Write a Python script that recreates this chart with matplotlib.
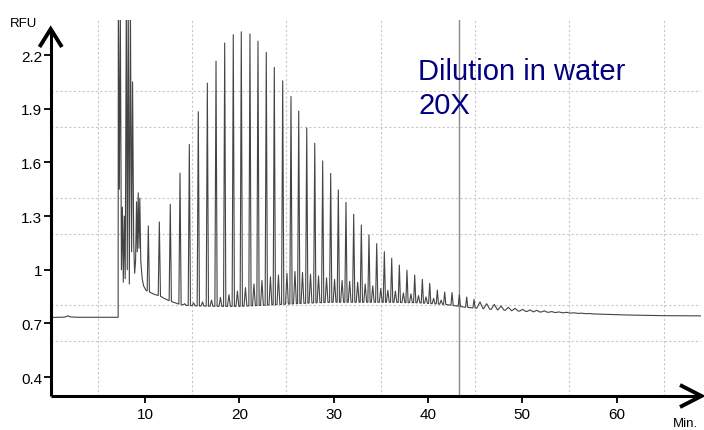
import numpy as np
import matplotlib.pyplot as plt
from matplotlib.lines import Line2D

plt.rcParams['font.family'] = ['Liberation Sans', 'DejaVu Sans']

# baseline and the crowded start of the run (minutes, RFU)
base_t = [0.0, 1.5, 1.8, 2.1, 3.0, 7.15,
          7.17, 7.28, 7.38, 7.5, 7.6, 7.7, 7.8, 7.9, 8.02, 8.12, 8.22, 8.34,
          8.45, 8.58, 8.68, 8.8, 8.9, 9.0, 9.1, 9.18, 9.28, 9.36, 9.45, 9.55,
          9.7, 9.85, 10.1, 10.6, 11.0, 11.6, 12.1, 12.65, 13.2, 13.7, 14.5,
          16.0, 18.0, 20.0, 22.0, 24.0, 26.0, 28.0, 30.0, 33.0, 36.0, 39.0,
          42.0, 44.0, 47.5, 51.0, 54.0, 58.0, 61.0, 65.0, 69.0]
base_v = [0.733, 0.735, 0.742, 0.736, 0.734, 0.734,
          2.5, 1.45, 2.5, 1.0, 1.35, 0.93, 1.3, 0.95, 2.5, 1.0, 2.5, 0.92,
          2.5, 1.1, 2.05, 1.15, 0.98, 1.05, 1.38, 1.1, 1.43, 1.12, 1.40, 1.05,
          0.95, 0.91, 0.885, 0.872, 0.862, 0.853, 0.838, 0.825, 0.815, 0.806, 0.80,
          0.797, 0.795, 0.795, 0.80, 0.805, 0.81, 0.815, 0.818, 0.818, 0.818, 0.815,
          0.805, 0.79, 0.775, 0.765, 0.76, 0.752, 0.747, 0.743, 0.742]

# main ladder of peaks
peak_t = [10.35, 11.52, 12.68, 13.71, 14.70, 15.65, 16.61, 17.53, 18.45, 19.36,
          20.21, 21.13, 21.98, 22.86, 23.71, 24.60, 25.48, 26.30, 27.15, 28.00,
          28.84, 29.69, 30.50, 31.31, 32.13, 32.94, 33.75, 34.57, 35.38, 36.16,
          36.97, 37.78, 38.60, 39.41, 40.19, 41.00, 41.78, 42.56, 43.33, 44.11,
          44.89]
peak_h = [1.245, 1.267, 1.366, 1.54, 1.70, 1.883, 2.043, 2.166, 2.267, 2.314,
          2.33, 2.318, 2.278, 2.215, 2.131, 2.056, 1.969, 1.887, 1.793, 1.707,
          1.608, 1.538, 1.446, 1.376, 1.31, 1.25, 1.194, 1.146, 1.101, 1.064,
          1.026, 0.997, 0.97, 0.946, 0.924, 0.886, 0.875, 0.872, 0.86, 0.847,
          0.834]

# small peaks between the main ones
minor_t = [14.2, 15.15, 16.1, 17.05, 18.0, 18.9, 19.8, 20.65, 21.55, 22.4,
           23.3, 24.15, 25.05, 25.9, 26.7, 27.55, 28.4, 29.25, 30.1, 30.9,
           31.7, 32.55, 33.35, 34.15, 35.0, 35.75, 36.55, 37.4, 38.2, 39.0,
           39.8, 40.6, 41.4]
minor_h = [0.81, 0.815, 0.82, 0.83, 0.845, 0.86, 0.88, 0.90, 0.92, 0.94,
           0.96, 0.97, 0.98, 0.99, 0.985, 0.975, 0.965, 0.955, 0.945, 0.94,
           0.935, 0.93, 0.92, 0.91, 0.895, 0.885, 0.88, 0.87, 0.865, 0.855,
           0.848, 0.84, 0.83]

# fading ripples at the end
tail_t = [45.52, 46.23, 47.04, 47.75, 48.53, 49.24, 50.05, 50.83, 51.54, 52.34,
          53.13, 53.9, 54.7, 55.5, 56.3, 57.1]
tail_h = [0.82, 0.81, 0.806, 0.797, 0.79, 0.784, 0.778, 0.775, 0.773, 0.77,
          0.766, 0.764, 0.762, 0.759, 0.757, 0.755]

marker_t = 43.3
x_ticks = [10, 20, 30, 40, 50, 60]
y_ticks = [0.4, 0.7, 1.0, 1.3, 1.6, 1.9, 2.2]
y_labels = ['0.4', '0.7', '1', '1.3', '1.6', '1.9', '2.2']

# build the trace: baseline with each peak as a narrow spike on top
spikes = ([(t, h, 0.12) for t, h in zip(peak_t, peak_h)]
          + [(t, h, 0.15) for t, h in zip(minor_t, minor_h)]
          + [(t, h, 0.33) for t, h in zip(tail_t, tail_h)])
bt = np.array(base_t)
bv = np.array(base_v)
pts = []
for t, v in zip(bt, bv):
    if not any(abs(t - s[0]) <= s[2] for s in spikes):
        pts.append((t, v))
for t, h, w in spikes:
    pts.append((t - w, np.interp(t - w, bt, bv)))
    pts.append((t, h))
    pts.append((t + w, np.interp(t + w, bt, bv)))
pts.sort()
trace_t = [p[0] for p in pts]
trace_v = [p[1] for p in pts]

W, H = 704, 431
fig = plt.figure(figsize=(W / 100, H / 100), dpi=100)
left, right, bottom, top = 50.7, 701.4, 397, 21
ax = fig.add_axes([left / W, 1 - bottom / H, (right - left) / W, (bottom - top) / H])

ax.plot(trace_t, trace_v, color='#444444', lw=0.8, zorder=3)
ax.axvline(marker_t, color='#8a8a8a', lw=1.0, zorder=2)

ax.set_xlim(0, 69)
ax.set_ylim(0.294, 2.396)
ax.set_xticks(x_ticks)
ax.set_xticklabels([str(v) for v in x_ticks])
ax.set_yticks(y_ticks)
ax.set_yticklabels(y_labels)
ax.set_xticks(np.arange(5, 68, 5), minor=True)
ax.set_yticks(np.arange(0.4, 2.21, 0.2), minor=True)
ax.grid(which='minor', color='#c8c8c8', lw=0.8, linestyle=(0, (2, 2)))
ax.tick_params(which='minor', length=0)
ax.tick_params(axis='y', which='major', direction='out', length=5, width=1.3,
               pad=1, labelsize=11)
ax.tick_params(axis='x', which='major', direction='out', length=5, width=1.3,
               pad=3, labelsize=11)
for s in ax.spines.values():
    s.set_visible(False)

# axis lines with open arrow heads
def px(xs, ys):
    return [x / W for x in xs], [1 - y / H for y in ys]

for xs, ys, lw in [([50.7, 50.7], [397, 31], 2.2), ([50.7, 701], [397, 397], 2.2),
                   ([39.5, 50.7, 61.9], [48, 30, 48], 2.8),
                   ([680, 701.5, 680], [386, 397, 408], 2.8)]:
    fx, fy = px(xs, ys)
    fig.add_artist(Line2D(fx, fy, transform=fig.transFigure, color='black',
                          lw=lw, solid_joinstyle='miter', solid_capstyle='butt'))

fig.text(10 / W, 1 - 27 / H, 'RFU', fontsize=9.5, va='baseline')
fig.text(673 / W, 1 - 427 / H, 'Min.', fontsize=9.5, va='baseline')
fig.text(418 / W, 1 - 80 / H, 'Dilution in water', fontsize=21, color='#000080',
         va='baseline')
fig.text(418 / W, 1 - 114 / H, '20X', fontsize=21, color='#000080', va='baseline')

fig.savefig('out.png', dpi=100)
